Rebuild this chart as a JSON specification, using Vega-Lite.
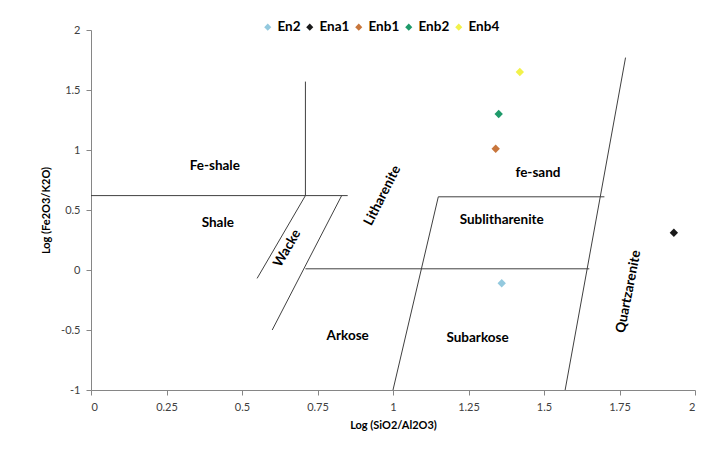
{
  "$schema": "https://vega.github.io/schema/vega-lite/v6.json",
  "width": 604,
  "height": 360,
  "autosize": {"type": "none"},
  "padding": {"left": 91, "top": 30, "right": 14, "bottom": 64},
  "background": "white",
  "config": {
    "view": {"stroke": null},
    "font": "Lato",
    "axis": {
      "grid": false,
      "domainColor": "#868686",
      "tickColor": "#868686",
      "tickSize": 5,
      "labelColor": "#404040",
      "labelFont": "Lato",
      "labelFontSize": 11,
      "titleFont": "Lato",
      "titleFontSize": 11,
      "titleFontWeight": "bold",
      "titleColor": "#000000"
    }
  },
  "layer": [
    {
      "data": {"values": [
        {"x1": 0, "y1": 0.62, "x2": 0.85, "y2": 0.62},
        {"x1": 0.71, "y1": 1.57, "x2": 0.71, "y2": 0.62},
        {"x1": 0.71, "y1": 0.62, "x2": 0.55, "y2": -0.07},
        {"x1": 0.83, "y1": 0.62, "x2": 0.6, "y2": -0.5},
        {"x1": 0.71, "y1": 0.01, "x2": 1.65, "y2": 0.01},
        {"x1": 1.15, "y1": 0.61, "x2": 1.7, "y2": 0.61},
        {"x1": 1.15, "y1": 0.61, "x2": 1.0, "y2": -1},
        {"x1": 1.77, "y1": 1.77, "x2": 1.57, "y2": -1}
      ]},
      "mark": {"type": "rule", "color": "#404040", "strokeWidth": 1},
      "encoding": {
        "x": {"field": "x1", "type": "quantitative", "scale": {"domain": [0, 2], "nice": false},
          "axis": {"title": "Log (SiO2/Al2O3)", "values": [0, 0.25, 0.5, 0.75, 1, 1.25, 1.5, 1.75, 2], "labelExpr": "'' + datum.value", "labelPadding": 6, "titlePadding": 7}},
        "y": {"field": "y1", "type": "quantitative", "scale": {"domain": [-1, 2], "nice": false},
          "axis": {"title": "Log (Fe2O3/K2O)", "values": [-1, -0.5, 0, 0.5, 1, 1.5, 2], "labelExpr": "'' + datum.value", "labelPadding": 6, "titlePadding": 9}},
        "x2": {"field": "x2"},
        "y2": {"field": "y2"}
      }
    },
    {
      "data": {"values": [
        {"label": "Fe-shale", "x": 0.41, "y": 0.87},
        {"label": "Shale", "x": 0.42, "y": 0.39},
        {"label": "fe-sand", "x": 1.48, "y": 0.81},
        {"label": "Sublitharenite", "x": 1.36, "y": 0.42},
        {"label": "Subarkose", "x": 1.28, "y": -0.57},
        {"label": "Arkose", "x": 0.85, "y": -0.55}
      ]},
      "mark": {"type": "text", "font": "Lato", "fontSize": 13.5, "fontWeight": "bold", "color": "#000000"},
      "encoding": {
        "x": {"field": "x", "type": "quantitative"},
        "y": {"field": "y", "type": "quantitative"},
        "text": {"field": "label"}
      }
    },
    {
      "data": {"values": [{"label": "Wacke", "x": 0.65, "y": 0.18}]},
      "mark": {"type": "text", "font": "Lato", "fontSize": 13.5, "fontWeight": "bold", "color": "#000000", "angle": -60},
      "encoding": {
        "x": {"field": "x", "type": "quantitative"},
        "y": {"field": "y", "type": "quantitative"},
        "text": {"field": "label"}
      }
    },
    {
      "data": {"values": [{"label": "Litharenite", "x": 0.965, "y": 0.62}]},
      "mark": {"type": "text", "font": "Lato", "fontSize": 13.5, "fontWeight": "bold", "color": "#000000", "angle": -63},
      "encoding": {
        "x": {"field": "x", "type": "quantitative"},
        "y": {"field": "y", "type": "quantitative"},
        "text": {"field": "label"}
      }
    },
    {
      "data": {"values": [{"label": "Quartzarenite", "x": 1.78, "y": -0.18}]},
      "mark": {"type": "text", "font": "Lato", "fontSize": 13.5, "fontWeight": "bold", "color": "#000000", "angle": -79},
      "encoding": {
        "x": {"field": "x", "type": "quantitative"},
        "y": {"field": "y", "type": "quantitative"},
        "text": {"field": "label"}
      }
    },
    {
      "data": {"values": [
        {"sample": "En2", "x": 1.36, "y": -0.11},
        {"sample": "Ena1", "x": 1.93, "y": 0.31},
        {"sample": "Enb1", "x": 1.34, "y": 1.01},
        {"sample": "Enb2", "x": 1.35, "y": 1.3},
        {"sample": "Enb4", "x": 1.42, "y": 1.65}
      ]},
      "mark": {"type": "point", "shape": "diamond", "filled": true, "size": 70, "opacity": 1},
      "encoding": {
        "x": {"field": "x", "type": "quantitative"},
        "y": {"field": "y", "type": "quantitative"},
        "color": {"field": "sample", "type": "nominal",
          "scale": {"domain": ["En2", "Ena1", "Enb1", "Enb2", "Enb4"], "range": ["#93C9DE", "#1A1A1A", "#C8763C", "#1E9A6A", "#F2F24A"]},
          "legend": {"title": null, "orient": "none", "legendX": 170, "legendY": -10, "direction": "horizontal", "columns": 5, "columnPadding": 2, "symbolSize": 50, "symbolType": "diamond", "labelFont": "Lato", "labelFontSize": 13.5, "labelFontWeight": "bold", "labelColor": "#000000", "labelOffset": 3}}
      }
    }
  ]
}
